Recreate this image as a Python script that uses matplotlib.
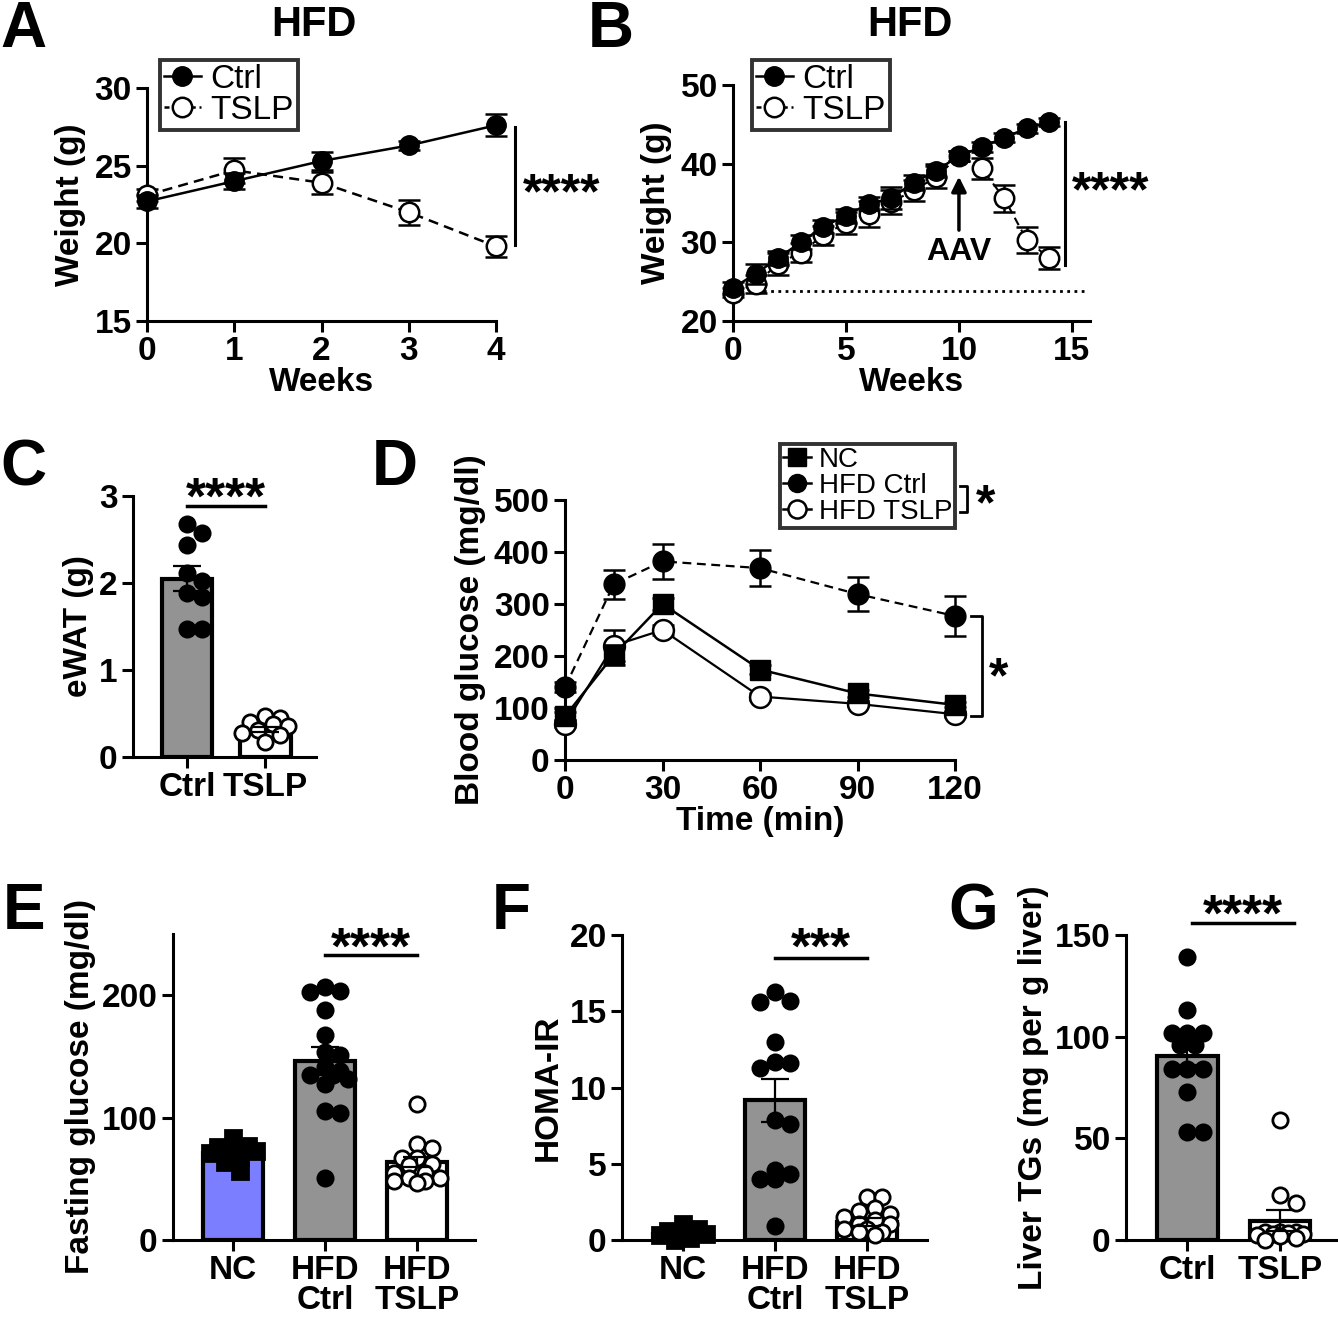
import numpy as np
import matplotlib
matplotlib.use('Agg')
import matplotlib.pyplot as plt
from matplotlib import font_manager as fm
from matplotlib.lines import Line2D

W, H = 1338, 1324

# ---- data ----
# A: 4 weeks HFD
a_weeks = [0, 1, 2, 3, 4]
a_ctrl = [22.7, 24.0, 25.3, 26.3, 27.6]
a_ctrl_err = [0.4, 0.5, 0.6, 0.3, 0.7]
a_tslp = [23.1, 24.7, 23.9, 22.0, 19.8]
a_tslp_err = [0.4, 0.8, 0.7, 0.8, 0.7]

# B: 14 weeks HFD, AAV at week 10
b_weeks = list(range(15))
b_ctrl = [24.2, 26.0, 28.0, 30.0, 32.0, 33.4, 34.9, 35.6, 37.6, 39.1, 41.0, 42.1, 43.3, 44.5, 45.3]
b_ctrl_err = [0.8, 1.3, 0.9, 0.9, 0.8, 0.9, 0.8, 1.4, 0.9, 0.8, 0.6, 0.6, 0.6, 0.6, 0.5]
b_tslp = [23.6, 24.7, 27.3, 28.7, 30.9, 32.5, 33.6, 35.1, 36.6, 38.3, 41.0, 39.4, 35.6, 30.3, 28.0]
b_tslp_err = [0.6, 1.2, 1.4, 1.2, 1.2, 1.4, 1.6, 1.5, 1.3, 1.4, 0.6, 1.3, 1.7, 1.7, 1.4]
b_baseline = 23.8

# C: eWAT
c_groups = ['Ctrl', 'TSLP']
c_ctrl = [2.68, 2.58, 2.44, 2.12, 2.02, 1.88, 1.84, 1.47, 1.47]
c_tslp = [0.47, 0.45, 0.40, 0.38, 0.36, 0.31, 0.28, 0.25, 0.17]
c_mean = [2.05, 0.32]
c_sem = [0.14, 0.03]

# D: GTT
d_time = [0, 15, 30, 60, 90, 120]
d_nc = [84, 202, 300, 174, 128, 106]
d_nc_err = [8, 20, 12, 8, 6, 5]
d_ctrl = [140, 338, 382, 369, 319, 277]
d_ctrl_err = [10, 28, 33, 34, 33, 39]
d_tslp = [70, 220, 250, 122, 108, 88]
d_tslp_err = [6, 30, 10, 6, 5, 5]

# E: fasting glucose
e_groups = ['NC', 'HFD\nCtrl', 'HFD\nTSLP']
e_nc = [83.6, 76.7, 75.9, 74.0, 72.6, 71.2, 67.7, 63.8, 56.2]
e_ctrl = [206.8, 203.6, 202.7, 187.7, 167.1, 153.4, 151.2, 141.0, 138.4, 135.0,
          135.0, 131.5, 127.4, 105.5, 104.1, 50.7]
e_tslp = [111.5, 78.6, 75.3, 67.1, 67.1, 62.2, 61.6, 54.8, 54.8, 50.7, 50.7, 47.9, 47.9, 46.6]
e_mean = [71.0, 146.0, 63.5]
e_sem = [2.8, 11.5, 4.0]

# F: HOMA-IR
f_groups = ['NC', 'HFD\nCtrl', 'HFD\nTSLP']
f_nc = [1.05, 0.7, 0.6, 0.45, 0.4, 0.3, 0.15, 0.0]
f_ctrl = [16.25, 15.7, 15.6, 13.0, 11.7, 11.6, 11.3, 7.9, 7.6, 4.6, 4.3, 4.0, 4.0, 0.9]
f_tslp = [2.8, 2.8, 2.1, 1.9, 1.7, 1.5, 1.3, 1.05, 1.05, 0.7, 0.7, 0.5, 0.5, 0.3]
f_mean = [0.4, 9.15, 1.2]
f_sem = [0.12, 1.4, 0.25]

# G: liver TGs
g_groups = ['Ctrl', 'TSLP']
g_ctrl = [139, 113, 102, 102, 102, 96, 96, 84, 84, 84, 73, 53, 53]
g_tslp = [59, 22, 18, 4, 4, 4, 3.5, 3, 3, 2.5, 2, 1, 0]
g_mean = [90.5, 9.5]
g_sem = [4.5, 5.3]

FAM = ['Liberation Sans', 'DejaVu Sans']
plt.rcParams['font.family'] = FAM
plt.rcParams['font.weight'] = 'bold'
plt.rcParams['axes.labelweight'] = 'bold'
plt.rcParams['axes.linewidth'] = 2.2

fig = plt.figure(figsize=(W / 100, H / 100), dpi=100)


def px_axes(left, top, right, bottom):
    return fig.add_axes([left / W, 1 - bottom / H, (right - left) / W, (bottom - top) / H])


def style(ax, size):
    for s in ['top', 'right']:
        ax.spines[s].set_visible(False)
    ax.tick_params(direction='out', length=8, width=2.2, labelsize=size, pad=3)


def letter(x, y, s):
    fig.text(x / W, 1 - y / H, s, ha='left', va='top', fontsize=46, fontweight='bold')


def swarm(ax, x0, vals, d_px, half=0.3):
    # spread points sideways within the bar, like Prism's scatter dot plot
    tr = ax.transData
    upx = tr.transform((1, 0))[0] - tr.transform((0, 0))[0]
    step = 0.5 * d_px
    cands = [0.0]
    k = 1
    while k * step <= half * upx:
        cands += [k * step, -k * step]
        k += 1
    placed, xs = [], []
    for v in vals:
        ypx = tr.transform((x0, v))[1]
        best, bestd = 0.0, -1
        for c in cands:
            dmin = min(np.hypot(c - p, ypx - q) for p, q in placed) if placed else 1e9
            if dmin >= 0.85 * d_px:
                best = c
                break
            if dmin > bestd:
                best, bestd = c, dmin
        placed.append((best, ypx))
        xs.append(x0 + best / upx)
    return xs


leg_font = fm.FontProperties(family=FAM, size=24, weight='normal')
hA = [Line2D([], [], color='black', marker='o', ms=14, mfc='black', lw=1.8),
      Line2D([], [], color='black', marker='o', ms=14, mfc='white', mew=1.8, lw=1.8, ls=(0, (2, 1.5)))]

# ---------------- A ----------------
axA = px_axes(147, 88, 496, 321)
axA.set_xlim(0, 4)
axA.set_ylim(15, 30)
axA.set_xticks(a_weeks)
axA.set_yticks([15, 20, 25, 30])
axA.errorbar(a_weeks, a_tslp, yerr=a_tslp_err, color='black', ls=(0, (4, 2.5)), lw=1.8,
             marker='o', ms=14, mfc='white', mec='black', mew=1.8,
             capsize=8, capthick=1.8, elinewidth=1.8, clip_on=False, zorder=3)
axA.errorbar(a_weeks, a_ctrl, yerr=a_ctrl_err, color='black', ls='-', lw=1.8,
             marker='o', ms=14, mfc='black', mec='black',
             capsize=8, capthick=1.8, elinewidth=1.8, clip_on=False, zorder=4)
style(axA, 24)
axA.set_xlabel('Weeks', fontsize=24, labelpad=0)
axA.set_ylabel('Weight (g)', fontsize=24, labelpad=6)
axA.plot([4.22, 4.22], [27.5, 19.9], color='black', lw=2.2, clip_on=False)
axA.text(4.31, 23.1, '****', fontsize=36, va='center', ha='left')
legA = axA.legend(hA, ['Ctrl', 'TSLP'], loc='upper left', bbox_to_anchor=(160 / W, 1 - 60 / H),
                  bbox_transform=fig.transFigure, borderaxespad=0, fancybox=False, edgecolor='black',
                  handlelength=1.1, handletextpad=0.3, labelspacing=0.0, borderpad=0.12,
                  prop=leg_font)
legA.get_frame().set_linewidth(2.8)
fig.text(314 / W, 1 - 25 / H, 'HFD', ha='center', va='center', fontsize=30)
letter(0, 0, 'A')

# ---------------- B ----------------
axB = px_axes(733, 85, 1090, 321)
axB.set_xlim(0, 15.8)
axB.set_ylim(20, 50)
axB.set_xticks([0, 5, 10, 15])
axB.set_yticks([20, 30, 40, 50])
axB.hlines(b_baseline, 0.7, 15.6, colors='black', linestyles=(0, (1, 1.6)), lw=2)
axB.errorbar(b_weeks, b_tslp, yerr=b_tslp_err, color='black', ls=(0, (4, 2.5)), lw=1.5,
             marker='o', ms=14, mfc='white', mec='black', mew=1.8,
             capsize=8, capthick=1.8, elinewidth=1.8, clip_on=False, zorder=3)
axB.errorbar(b_weeks, b_ctrl, yerr=b_ctrl_err, color='black', ls='-', lw=1.8,
             marker='o', ms=14, mfc='black', mec='black',
             capsize=8, capthick=1.8, elinewidth=1.8, clip_on=False, zorder=4)
style(axB, 24)
axB.set_xlabel('Weeks', fontsize=24, labelpad=0)
axB.set_ylabel('Weight (g)', fontsize=24, labelpad=6)
axB.annotate('', xy=(10, 38.7), xytext=(10, 31.2),
             arrowprops=dict(arrowstyle='-|>', lw=2.5, color='black', mutation_scale=22))
axB.text(10, 28.8, 'AAV', fontsize=23, ha='center', va='center')
axB.plot([14.7, 14.7], [45.3, 27.1], color='black', lw=2.2, clip_on=False)
axB.text(15.0, 36.2, '****', fontsize=36, va='center', ha='left')
legB = axB.legend(hA, ['Ctrl', 'TSLP'], loc='upper left', bbox_to_anchor=(752 / W, 1 - 60 / H),
                  bbox_transform=fig.transFigure, borderaxespad=0, fancybox=False, edgecolor='black',
                  handlelength=1.1, handletextpad=0.3, labelspacing=0.0, borderpad=0.12,
                  prop=leg_font)
legB.get_frame().set_linewidth(2.8)
fig.text(910 / W, 1 - 25 / H, 'HFD', ha='center', va='center', fontsize=30)
letter(588, 0, 'B')


# ---------------- bar panels ----------------
def bar_panel(ax, groups, pts, means, sems, colors, markers, fills, xlim, ylim, yticks, ylabel):
    x = np.arange(len(groups))
    ax.set_xlim(*xlim)
    ax.set_ylim(*ylim)
    ax.set_yticks(yticks)
    ax.set_xticks(x)
    ax.set_xticklabels(groups, linespacing=0.95)
    ax.bar(x, means, width=0.65, color=colors, edgecolor='black', linewidth=3, zorder=2)
    ms = 11
    for xi, vals, mk, fill in zip(x, pts, markers, fills):
        xs = swarm(ax, xi, vals, ms * 100 / 72)
        ax.plot(xs, vals, ls='none', marker=mk, ms=ms, mfc='black' if fill else 'white',
                mec='black', mew=2, zorder=3, clip_on=False)
    ax.errorbar(x, means, yerr=sems, fmt='none', ecolor='black', elinewidth=1.6,
                capsize=10, capthick=1.6, zorder=4)
    style(ax, 24)
    ax.set_ylabel(ylabel, fontsize=24, labelpad=4)


def sig(ax, x1, x2, y, ys, stars):
    ax.plot([x1, x2], [y, y], color='black', lw=2.5, clip_on=False)
    ax.text((x1 + x2) / 2, ys, stars, ha='center', va='center', fontsize=37, fontweight='bold')


# C
axC = px_axes(133, 496, 316, 757)
bar_panel(axC, c_groups, [c_ctrl, c_tslp], c_mean, c_sem, ['#939393', 'white'],
          ['o', 'o'], [True, False], (-0.69, 1.65), (0, 3), [0, 1, 2, 3], 'eWAT (g)')
sig(axC, 0.0, 1.0, 2.88, 2.95, '****')
letter(0, 438, 'C')

# D
axD = px_axes(565, 500, 955, 760)
axD.set_xlim(0, 120)
axD.set_ylim(0, 500)
axD.set_xticks([0, 30, 60, 90, 120])
axD.set_yticks([0, 100, 200, 300, 400, 500])
axD.errorbar(d_time, d_tslp, yerr=d_tslp_err, color='black', ls='-', lw=1.6,
             marker='o', ms=15, mfc='white', mec='black', mew=1.8,
             capsize=8, capthick=1.8, elinewidth=1.8, clip_on=False, zorder=3)
axD.errorbar(d_time, d_nc, yerr=d_nc_err, color='black', ls='-', lw=1.8,
             marker='s', ms=14, mfc='black', mec='black',
             capsize=8, capthick=1.8, elinewidth=1.8, clip_on=False, zorder=4)
axD.errorbar(d_time, d_ctrl, yerr=d_ctrl_err, color='black', ls=(0, (4, 2.5)), lw=1.6,
             marker='o', ms=15, mfc='black', mec='black',
             capsize=8, capthick=1.8, elinewidth=1.8, clip_on=False, zorder=5)
style(axD, 24)
axD.set_xlabel('Time (min)', fontsize=24, labelpad=0)
axD.set_ylabel('Blood glucose (mg/dl)', fontsize=24, labelpad=6)
axD.plot([125, 128.4, 128.4, 125], [277, 277, 84, 84], color='black', lw=2, clip_on=False)
axD.text(133.5, 155, '*', fontsize=36, ha='center', va='center')
hD = [Line2D([], [], color='black', marker='s', ms=13, mfc='black', lw=1.8),
      Line2D([], [], color='black', marker='o', ms=13, mfc='black', lw=1.8),
      Line2D([], [], color='black', marker='o', ms=13, mfc='white', mew=1.8, lw=1.8)]
legD = axD.legend(hD, ['NC', 'HFD Ctrl', 'HFD TSLP'], loc='upper left',
                  bbox_to_anchor=(780 / W, 1 - 444 / H), bbox_transform=fig.transFigure,
                  borderaxespad=0, fancybox=False, edgecolor='black',
                  handlelength=1.0, handletextpad=0.3, labelspacing=0.0, borderpad=0.1,
                  prop=fm.FontProperties(family=FAM, size=20, weight='normal'))
legD.get_frame().set_linewidth(2.8)

# bracket for HFD Ctrl vs HFD TSLP next to the legend rows
fig.canvas.draw()
rend = fig.canvas.get_renderer()
lbb = legD.get_window_extent(rend)
t1 = legD.get_texts()[1].get_window_extent(rend)
t2 = legD.get_texts()[2].get_window_extent(rend)
y_hi = (t1.y0 + t1.y1) / 2
y_lo = (t2.y0 + t2.y1) / 2
xb = lbb.x1 + 12
fig.lines.append(Line2D([(xb - 7) / W, xb / W, xb / W, (xb - 7) / W],
                        [y_hi / H, y_hi / H, y_lo / H, y_lo / H],
                        color='black', lw=2, transform=fig.transFigure))
fig.text((xb + 18) / W, ((y_hi + y_lo) / 2 - 8) / H, '*', fontsize=36, ha='center', va='center')
letter(372, 438, 'D')

# E
axE = px_axes(173, 934, 475, 1240)
bar_panel(axE, e_groups, [e_nc, e_ctrl, e_tslp], e_mean, e_sem, ['#7b7fff', '#939393', 'white'],
          ['s', 'o', 'o'], [True, True, False], (-0.65, 2.63), (0, 250), [0, 100, 200],
          'Fasting glucose (mg/dl)')
sig(axE, 1.0, 2.0, 233, 237, '****')
letter(3, 882, 'E')

# F
axF = px_axes(622, 935, 927, 1240)
bar_panel(axF, f_groups, [f_nc, f_ctrl, f_tslp], f_mean, f_sem, ['#939393', '#939393', 'white'],
          ['s', 'o', 'o'], [True, True, False], (-0.66, 2.65), (0, 20), [0, 5, 10, 15, 20],
          'HOMA-IR')
sig(axF, 1.0, 2.0, 18.5, 19.0, '***')
letter(492, 882, 'F')

# G
axG = px_axes(1126, 935, 1336, 1240)
bar_panel(axG, g_groups, [g_ctrl, g_tslp], g_mean, g_sem, ['#939393', 'white'],
          ['o', 'o'], [True, False], (-0.66, 1.6), (0, 150), [0, 50, 100, 150],
          'Liver TGs (mg per g liver)')
sig(axG, 0.05, 1.15, 156, 159, '****')
letter(948, 882, 'G')

fig.savefig('out.png', dpi=100)
